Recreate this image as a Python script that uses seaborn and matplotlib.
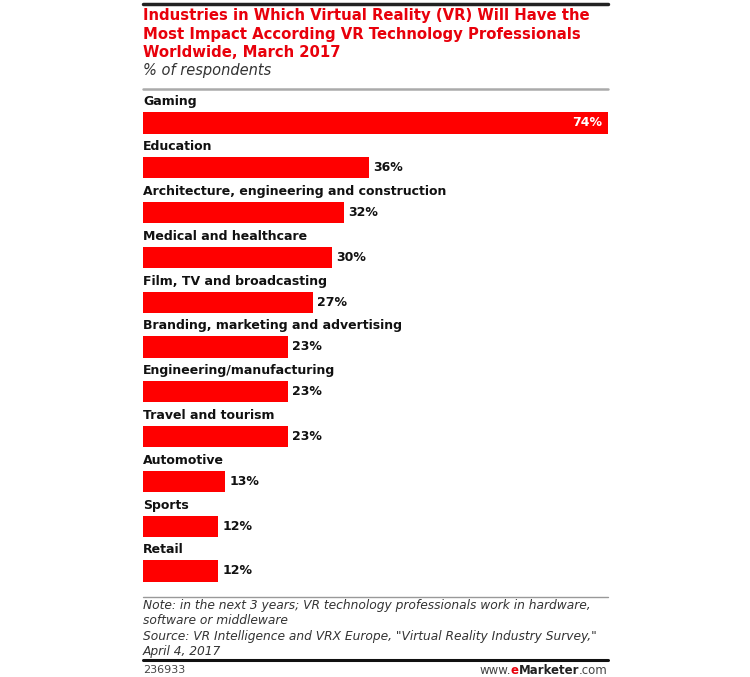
import matplotlib
matplotlib.use("Agg")
import matplotlib.pyplot as plt
import seaborn as sns
import pandas as pd
from matplotlib.lines import Line2D

categories = ["Gaming", "Education", "Architecture, engineering and construction",
              "Medical and healthcare", "Film, TV and broadcasting",
              "Branding, marketing and advertising", "Engineering/manufacturing",
              "Travel and tourism", "Automotive", "Sports", "Retail"]
values = [74, 36, 32, 30, 27, 23, 23, 23, 13, 12, 12]
value_labels = ["74%", "36%", "32%", "30%", "27%", "23%", "23%", "23%", "13%", "12%", "12%"]

title = ("Industries in Which Virtual Reality (VR) Will Have the\n"
         "Most Impact According VR Technology Professionals\n"
         "Worldwide, March 2017")
subtitle = "% of respondents"
note = ("Note: in the next 3 years; VR technology professionals work in hardware,\n"
        "software or middleware\n"
        "Source: VR Intelligence and VRX Europe, \"Virtual Reality Industry Survey,\"\n"
        "April 4, 2017")

sns.set_theme(style="white")
plt.rcParams['font.family'] = ['DejaVu Sans']

W, H = 750, 677
fig = plt.figure(figsize=(7.5, 6.77), dpi=100)

x0, x1 = 143, 608
top_px, bot_px = 95, 585
ax = fig.add_axes([x0 / W, 1 - bot_px / H, (x1 - x0) / W, (bot_px - top_px) / H])

df = pd.DataFrame({"cat": categories, "val": values})
sns.barplot(data=df, x="val", y="cat", orient="h", color="#ff0000", width=0.47,
            saturation=1, ax=ax)
for p in ax.patches:
    p.set_edgecolor("none")

c0, step = 123, 44.8
ax.set_ylim((bot_px - c0) / step, (top_px - c0) / step)
ax.set_xlim(0, values[0])
ax.axis("off")

for i, (c, v, lab) in enumerate(zip(categories, values, value_labels)):
    ax.text(0, i - 0.47, c, ha="left", va="center", fontsize=9.0, fontweight="bold",
            color="#111111")
    if i == 0:
        ax.text(v - 1.0, i, lab, ha="right", va="center", fontsize=9,
                fontweight="bold", color="white")
    else:
        ax.text(v + 0.7, i, lab, ha="left", va="center", fontsize=9,
                fontweight="bold", color="#111111")

def hline(y, color, lw):
    fig.add_artist(Line2D([x0 / W, x1 / W], [1 - y / H, 1 - y / H], color=color,
                          lw=lw, transform=fig.transFigure))

hline(3.5, "#222222", 2.5)
hline(89, "#aaaaaa", 1.8)
hline(597, "#999999", 1.0)
hline(660, "#111111", 2.2)

fig.text(x0 / W, 1 - 8 / H, title, ha="left", va="top", fontsize=10.7,
         fontweight="bold", color="#e8000b", linespacing=1.3)
fig.text(x0 / W, 1 - 71 / H, subtitle, ha="left", va="center", fontsize=10.5,
         style="italic", color="#333333")
fig.text(x0 / W, 1 - 599 / H, note, ha="left", va="top", fontsize=8.8,
         style="italic", color="#333333", linespacing=1.25)
fig.text(x0 / W, 1 - 670 / H, "236933", ha="left", va="center", fontsize=8,
         color="#444444")

parts = [("www.", "#444444", "normal"), ("e", "#e8000b", "bold"),
         ("Marketer", "#222222", "bold"), (".com", "#444444", "normal")]
renderer = fig.canvas.get_renderer()
x = x1
for txt, col, wt in reversed(parts):
    tt = fig.text(x / W, 1 - 670 / H, txt, ha="right", va="center", fontsize=8.5,
                  color=col, fontweight=wt)
    bb = tt.get_window_extent(renderer=renderer)
    x -= bb.width

fig.savefig("out.png", dpi=100, facecolor="white")
